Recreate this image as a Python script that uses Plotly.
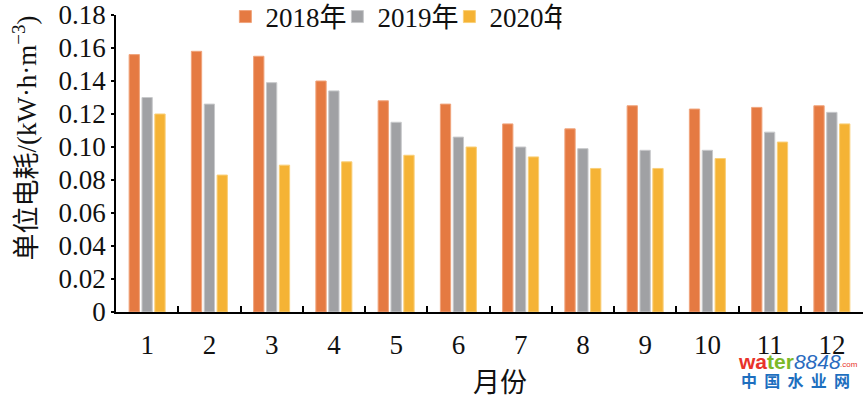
import plotly.graph_objects as go

months = ["1", "2", "3", "4", "5", "6", "7", "8", "9", "10", "11", "12"]
y2018 = [0.156, 0.158, 0.155, 0.140, 0.128, 0.126, 0.114, 0.111, 0.125, 0.123, 0.124, 0.125]
y2019 = [0.130, 0.126, 0.139, 0.134, 0.115, 0.106, 0.100, 0.099, 0.098, 0.098, 0.109, 0.121]
y2020 = [0.120, 0.083, 0.089, 0.091, 0.095, 0.100, 0.094, 0.087, 0.087, 0.093, 0.103, 0.114]
series_names = ["2018年", "2019年", "2020年"]
ytick_vals = [0, 0.02, 0.04, 0.06, 0.08, 0.10, 0.12, 0.14, 0.16, 0.18]
ytick_text = ["0", "0.02", "0.04", "0.06", "0.08", "0.10", "0.12", "0.14", "0.16", "0.18"]

colors = ["#E57A42", "#A0A1A4", "#F5B335"]
edges = ["#F0A47C", "#C8C9CB", "#F9CF78"]

FONT = '"Liberation Serif", "Times New Roman", Times, serif, "Noto Sans CJK SC"'

fig = go.Figure()
for name, vals, c, e in zip(series_names, [y2018, y2019, y2020], colors, edges):
    fig.add_trace(go.Bar(x=months, y=vals, name=name,
                         marker=dict(color=c, line=dict(color=e, width=1))))

W, H = 865, 395
L, R, T, B = 115.5, 1.7, 15, 83
pw, ph = W - L - R, H - T - B

fig.update_layout(
    width=W, height=H,
    margin=dict(l=L, r=R, t=T, b=B, pad=0, autoexpand=False),
    paper_bgcolor="white", plot_bgcolor="white",
    barmode="group", bargap=0.38, bargroupgap=0.2,
    font=dict(family=FONT, size=27, color="#111111"),
    showlegend=True,
    legend=dict(orientation="h", x=(225 - L) / pw, xanchor="left",
                y=1 - (17 - T) / ph, yanchor="middle",
                font=dict(size=27, family=FONT), itemwidth=30,
                entrywidth=67, entrywidthmode="pixels",
                bgcolor="rgba(0,0,0,0)", traceorder="normal"),
    xaxis=dict(type="category", showline=True, linecolor="black", linewidth=1.5,
               ticks="inside", ticklen=6, tickwidth=1.5, tickcolor="black",
               tickson="boundaries", showgrid=False, ticklabelstandoff=8,
               automargin=False, tickfont=dict(size=27, family=FONT)),
    yaxis=dict(range=[0, 0.18], showline=True, linecolor="black", linewidth=1.5,
               ticks="outside", ticklen=3, tickwidth=1.5, tickcolor="black",
               tickvals=ytick_vals, ticktext=ytick_text, showgrid=False,
               automargin=False, zeroline=False, tickfont=dict(size=27, family=FONT)),
    annotations=[
        dict(text="单位电耗/(kW·h·m<sup>−3</sup>)", textangle=-90,
             xref="paper", yref="paper", x=(24 - L) / pw, y=(312 - 138) / ph,
             xanchor="center", yanchor="middle", showarrow=False,
             font=dict(size=27, family=FONT)),
        dict(text="月份", xref="paper", yref="paper",
             x=(500 - L) / pw, y=(312 - 383) / ph,
             xanchor="center", yanchor="middle", showarrow=False,
             font=dict(size=27, family=FONT)),
        dict(text='<b><span style="color:#E8332A">wa</span><span style="color:#7CB929">ter</span></b>'
                  '<i><span style="color:#2A6BBF">8848</span></i>',
             xref="paper", yref="paper", x=(736 - L) / pw, y=(312 - 361) / ph,
             xanchor="left", yanchor="middle", showarrow=False,
             font=dict(size=21, family="Liberation Sans, Arial, sans-serif")),
        dict(text='<span style="color:#E8332A">.com</span>',
             xref="paper", yref="paper", x=(838 - L) / pw, y=(312 - 364) / ph,
             xanchor="left", yanchor="middle", showarrow=False,
             font=dict(size=8, family="Liberation Sans, Arial, sans-serif")),
        dict(text='<b>中  国  水  业  网</b>',
             xref="paper", yref="paper", x=(796 - L) / pw, y=(312 - 380) / ph,
             xanchor="center", yanchor="middle", showarrow=False,
             font=dict(size=16, color="#1E6FBF", family="Noto Sans CJK SC, sans-serif")),
    ],
)

fig.write_html("out.html", config={"displayModeBar": False},
               post_script="document.body.style.margin='0';")
